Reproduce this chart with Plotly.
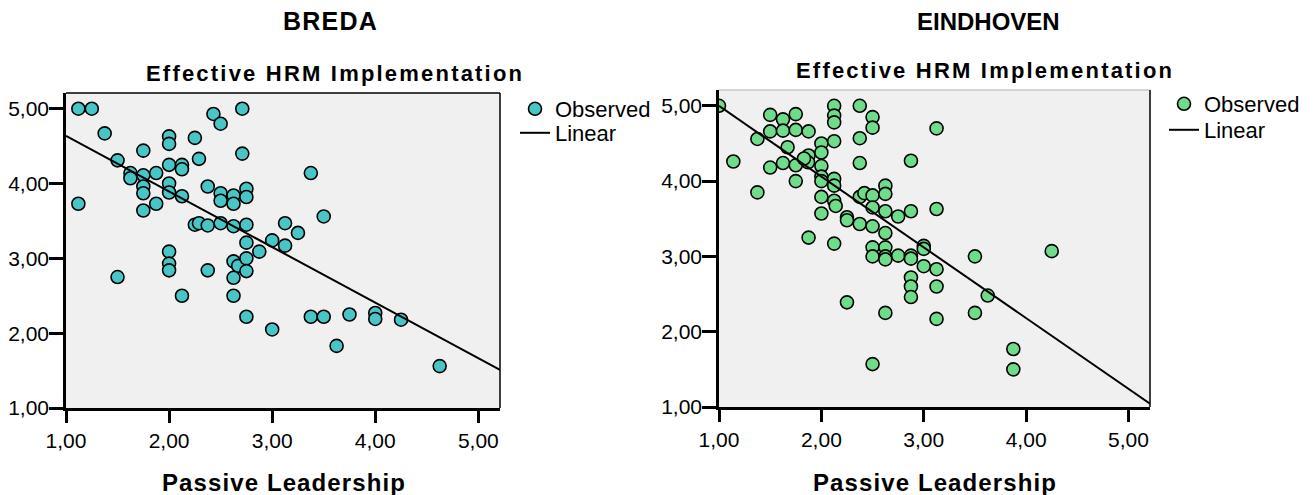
import plotly.graph_objects as go

# ---------------- data ----------------
breda_x = [1.12, 1.25, 1.375, 1.5, 1.625, 1.625, 1.75, 1.75, 1.75, 1.75, 1.75,
           1.875, 1.875, 2.0, 2.0, 2.0, 2.0, 2.0, 2.125, 2.125, 2.125,
           2.25, 2.29, 2.43, 2.5, 2.71, 2.71, 2.375, 2.5, 2.5, 2.625, 2.625,
           2.75, 2.75, 2.25, 2.29, 2.375, 2.5, 2.625, 2.75, 2.75, 2.875, 3.0,
           3.375, 3.5, 3.125, 3.25, 3.125, 1.12,
           1.5, 2.0, 2.0, 2.0, 2.125, 2.375, 2.625, 2.67, 2.625, 2.625, 2.75, 2.75,
           2.75, 3.0, 3.375, 3.5, 3.75, 4.0, 4.0, 4.25, 3.625, 4.625]
breda_y = [5.0, 5.0, 4.67, 4.31, 4.14, 4.07, 4.44, 4.11, 3.96, 3.87, 3.64,
           4.14, 3.73, 4.63, 4.53, 4.25, 4.0, 3.88, 4.25, 4.19, 3.83,
           4.61, 4.33, 4.93, 4.8, 5.0, 4.4, 3.96, 3.87, 3.77, 3.84, 3.73,
           3.93, 3.82, 3.45, 3.47, 3.44, 3.47, 3.43, 3.45, 3.21, 3.09, 3.24,
           4.14, 3.56, 3.47, 3.34, 3.17, 3.73,
           2.75, 3.09, 2.93, 2.84, 2.5, 2.84, 2.96, 2.9, 2.74, 2.5, 3.0, 2.83,
           2.22, 2.05, 2.22, 2.22, 2.25, 2.27, 2.19, 2.18, 1.83, 1.56]

eind_x = [1.0, 1.14, 1.375, 1.375, 1.5, 1.5, 1.5, 1.625, 1.625, 1.625, 1.67,
          1.75, 1.75, 1.75, 1.75, 1.875, 1.875, 1.87, 1.875, 1.83,
          2.0, 2.0, 2.0, 2.0, 2.0, 2.0, 2.0,
          2.125, 2.125, 2.125, 2.125, 2.125, 2.125, 2.125, 2.14, 2.125,
          2.25, 2.25, 2.375, 2.375, 2.375, 2.375, 2.42, 2.375,
          2.5, 2.5, 2.5, 2.5, 2.5, 2.5, 2.5,
          2.625, 2.625, 2.625, 2.625, 2.625, 2.625, 2.75, 2.75, 2.875, 2.875, 2.875,
          3.0, 3.0, 3.125, 3.125, 3.5, 4.25,
          2.25, 2.5, 2.625, 2.625, 2.875, 2.875, 2.875, 2.875, 3.0, 3.125, 3.125, 3.125,
          3.625, 3.5, 3.875, 3.875]
eind_y = [5.0, 4.26, 4.56, 3.85, 4.88, 4.66, 4.18, 4.82, 4.67, 4.24, 4.45,
          4.89, 4.68, 4.21, 4.0, 4.66, 4.34, 4.25, 3.25, 4.3,
          4.5, 4.38, 4.2, 4.06, 4.0, 3.79, 3.57,
          5.0, 4.87, 4.78, 4.53, 4.03, 3.94, 3.74, 3.67, 3.17,
          3.52, 3.48, 5.0, 4.57, 4.24, 3.79, 3.84, 3.43,
          4.85, 4.71, 3.81, 3.65, 3.4, 3.12, 3.0,
          3.94, 3.83, 3.6, 3.31, 3.12, 3.0, 3.53, 3.01, 3.6, 3.01, 4.27,
          3.14, 3.1, 4.7, 3.63, 3.0, 3.07,
          2.39, 1.57, 2.25, 2.96, 2.97, 2.72, 2.6, 2.46, 2.87, 2.83, 2.6, 2.17,
          2.48, 2.25, 1.77, 1.5]

# linear fit coefficients
breda_fit = (5.38, -0.743)   # intercept, slope
eind_fit = (5.94, -0.94)

axis_range = [1.0, 5.21]
tick_vals = [1, 2, 3, 4, 5]

titles = ["BREDA", "EINDHOVEN"]
subtitle = "Effective HRM Implementation"
xlabel = "Passive Leadership"
legend_labels = ["Observed", "Linear"]

colors = ["#48C6C6", "#6EDC8A"]

FONT = "Arial, Liberation Sans, sans-serif"

fig = go.Figure()

# legend ids: [observed, linear] per panel
legend_ids = [("legend", "legend3"), ("legend2", "legend4")]

datasets = [(breda_x, breda_y, breda_fit), (eind_x, eind_y, eind_fit)]
for i, (xs, ys, fit) in enumerate(datasets):
    xa = "x" if i == 0 else "x2"
    ya = "y" if i == 0 else "y2"
    fig.add_trace(go.Scatter(
        x=xs, y=ys, mode="markers", name=legend_labels[0],
        marker=dict(size=13, color=colors[i], line=dict(color="black", width=1.6)),
        xaxis=xa, yaxis=ya, legend=legend_ids[i][0], cliponaxis=True))
    lx = axis_range
    ly = [fit[0] + fit[1] * v for v in lx]
    fig.add_trace(go.Scatter(
        x=lx, y=ly, mode="lines", name=legend_labels[1],
        line=dict(color="black", width=2),
        xaxis=xa, yaxis=ya, legend=legend_ids[i][1]))

W, H = 1315, 495
dom = [((66, 500), (93, 408)), ((719, 1150), (90, 407))]

ax_common = dict(range=axis_range, tickvals=tick_vals, tickformat=".2f",
                 showgrid=False, zeroline=False, showline=True, automargin=False,
                 linecolor="black", linewidth=2.5, ticks="outside",
                 ticklen=12, tickwidth=2.5, tickcolor="black",
                 tickfont=dict(family=FONT, size=21, color="black"))

layout = dict(width=W, height=H, margin=dict(l=0, r=0, t=0, b=0),
              paper_bgcolor="white", plot_bgcolor="#F0F0F0",
              separators=", ", showlegend=True, font=dict(family=FONT))
for i, ((x0, x1), (y0, y1)) in enumerate(dom):
    sfx = "" if i == 0 else "2"
    layout["xaxis" + sfx] = dict(ax_common, domain=[x0 / W, x1 / W],
                                 anchor="y" + sfx)
    layout["yaxis" + sfx] = dict(ax_common, domain=[1 - y1 / H, 1 - y0 / H],
                                 anchor="x" + sfx, ticklen=14,
                                 ticklabelstandoff=-4)
fig.update_layout(**layout)

# legend row positions (left x of legend box, top y), per panel and row
legend_pos = {"legend": (515, 88), "legend3": (515, 112),
              "legend2": (1164, 83), "legend4": (1164, 109)}
for key, (lx, ly) in legend_pos.items():
    fig.update_layout(**{key: dict(x=lx / W, y=1 - ly / H, xanchor="left", yanchor="top",
                                   bgcolor="rgba(0,0,0,0)", tracegroupgap=0,
                                   itemwidth=30,
                                   font=dict(family=FONT, size=22, color="black"))})

# frame (top/right borders)
frame_top = ["black", "#C8C8C8"]
for i in range(2):
    sfx = "" if i == 0 else "2"
    fig.add_shape(type="line", xref="x" + sfx + " domain", yref="y" + sfx + " domain",
                  x0=0, x1=1, y0=1, y1=1, line=dict(color=frame_top[i], width=1.5),
                  layer="above")
    fig.add_shape(type="line", xref="x" + sfx + " domain", yref="y" + sfx + " domain",
                  x0=1, x1=1, y0=0, y1=1, line=dict(color="black", width=1.5),
                  layer="above")

def spaced(t, px):
    return '<span style="letter-spacing:%spx">%s</span>' % (px, t)

anns = [
    (331, 21, titles[0], 25, 1.2), (988, 21, titles[1], 24, 0),
    (335, 73, subtitle, 22, 2.2), (985, 70, subtitle, 22, 2.2),
    (284, 482, xlabel, 24, 1.1), (935, 482, xlabel, 24, 1.1),
]
for (x, y, t, s, sp) in anns:
    txt = "<b>" + (spaced(t, sp) if sp else t) + "</b>"
    fig.add_annotation(x=x / W, y=1 - y / H, xref="paper", yref="paper",
                       text=txt, showarrow=False,
                       xanchor="center", yanchor="middle",
                       font=dict(family=FONT, size=s, color="black"))

fig.write_html("out.html")
